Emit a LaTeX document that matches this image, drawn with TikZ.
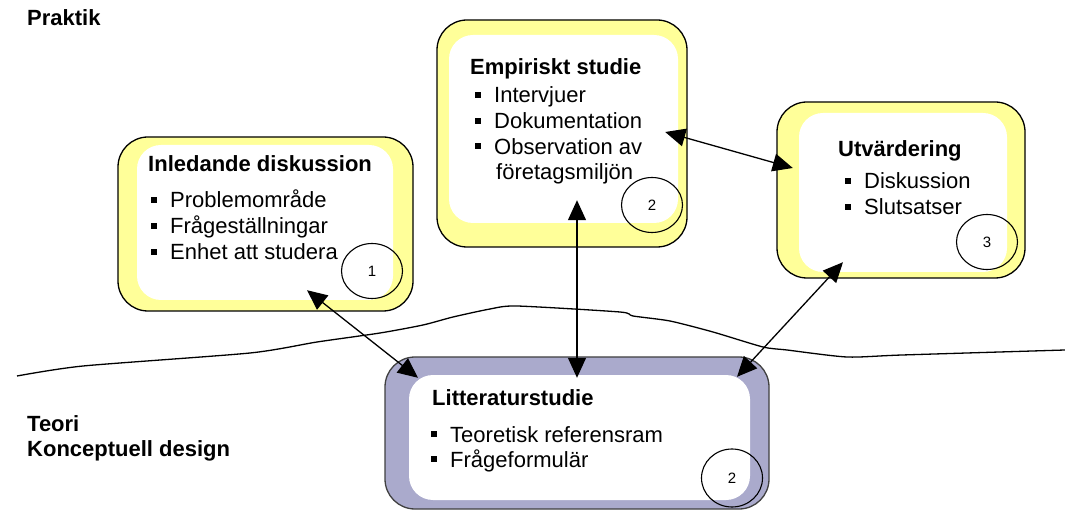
\documentclass[tikz,border=0pt]{standalone}
\usepackage{fontspec}
\setmainfont{Liberation Sans}
\usetikzlibrary{arrows.meta,shapes.geometric,calc}

\definecolor{praktikyellow}{RGB}{255,255,153}
\definecolor{teoripurple}{RGB}{170,170,204}
\newcommand{\sqbullet}{\llap{\rule[5pt]{6pt}{6pt}\hspace{13pt}}}

\begin{document}
\begin{tikzpicture}[x=1pt,y=-1pt,
    phase/.style={draw=black, line width=1.3pt, fill=praktikyellow, rounded corners=30pt, inner sep=0pt},
    sheet/.style={fill=white, rounded corners=24pt, inner sep=0pt},
    head/.style={font=\fontsize{22}{26}\selectfont\bfseries, anchor=base west, inner sep=0pt},
    item/.style={font=\fontsize{22}{26}\selectfont, anchor=base west, inner sep=0pt},
    num/.style={draw, line width=1.1pt, ellipse, minimum width=61pt, minimum height=55pt, font=\fontsize{15}{18}\selectfont},
    link/.style={{Triangle[length=20pt,width=18pt]}-{Triangle[length=20pt,width=18pt]}, line width=1.3pt}]
    \useasboundingbox (0,0) rectangle (1065,510);

    % Praktik / Teori
    \node[head] (praktik) at (27,26) {Praktik};
    \node[head] (teori) at (27,431) {Teori};
    \node[head] (design) at (27,456) {Konceptuell design};
    \draw[line width=1.3pt] plot[smooth, tension=0.4] coordinates {(17,376) (83,366) (250,353) (317,342) (380,333) (423,325) (453,317) (490,309) (517,306) (620,312) (633,316) (670,321) (713,332) (763,347) (787,350) (847,357) (902,355) (1065,350)};

    % Box 1
    \node[phase, minimum width=295pt, minimum height=174pt] (inledande) at (265.5,224) {};
    \node[sheet, minimum width=256pt, minimum height=155pt] (inledande-w) at (265,222.5) {};
    \node[head] (inledande-t) at (148,172) {Inledande diskussion};
    \foreach \t [count=\i] in {Problemområde, Frågeställningar, Enhet att studera}
        \node[item] (inledande-\i) at (170,{208+26*(\i-1)}) {\sqbullet\t};
    \node[num] (inledande-n) at (372,271) {1};

    % Box 2
    \node[phase, minimum width=250pt, minimum height=227pt] (empiri) at (562,133.5) {};
    \node[sheet, minimum width=229pt, minimum height=188pt] (empiri-w) at (563.5,129) {};
    \node[head] (empiri-t) at (470,75) {Empiriskt studie};
    \foreach \t [count=\i] in {Intervjuer, Dokumentation, Observation av}
        \node[item] (empiri-\i) at (494,{103+25.7*(\i-1)}) {\sqbullet\t};
    \node[item] (empiri-4) at (496,180) {företagsmiljön};
    \node[num] (empiri-n) at (652,205) {2};

    % Box 3
    \node[phase, minimum width=248pt, minimum height=176pt] (utv) at (901,190) {};
    \node[sheet, minimum width=208pt, minimum height=159pt] (utv-w) at (903,192.5) {};
    \node[head] (utv-t) at (838,157) {Utvärdering};
    \foreach \t [count=\i] in {Diskussion, Slutsatser}
        \node[item] (utv-\i) at (864,{189+26*(\i-1)}) {\sqbullet\t};
    \node[num] (utv-n) at (987,242) {3};

    % Box 4
    \node[phase, draw=black!75, fill=teoripurple, minimum width=384pt, minimum height=152pt] (litt) at (577,433) {};
    \node[sheet, minimum width=341pt, minimum height=125pt] (litt-w) at (579.5,437.5) {};
    \node[head] (litt-t) at (432,405) {Litteraturstudie};
    \foreach \t [count=\i] in {Teoretisk referensram, Frågeformulär}
        \node[item] (litt-\i) at (450,{442+25*(\i-1)}) {\sqbullet\t};
    \node[num, minimum height=58pt] (litt-n) at (732,478) {2};

    % arrows
    \draw[link] ($(inledande-w.south)+(42,-10)$) -- ($(litt-w.north)+(-161.5,3)$);
    \draw[link] ($(empiri-w.south)+(13.5,-23)$) -- ($(litt-w.north)+(-2.5,3)$);
    \draw[link] ($(empiri-w.east)+(-13,3)$) -- ($(utv-w.west)+(-6,-24.5)$);
    \draw[link] ($(utv-w.south)+(-60,-10)$) -- ($(litt-w.north)+(157.5,2)$);
\end{tikzpicture}
\end{document}
